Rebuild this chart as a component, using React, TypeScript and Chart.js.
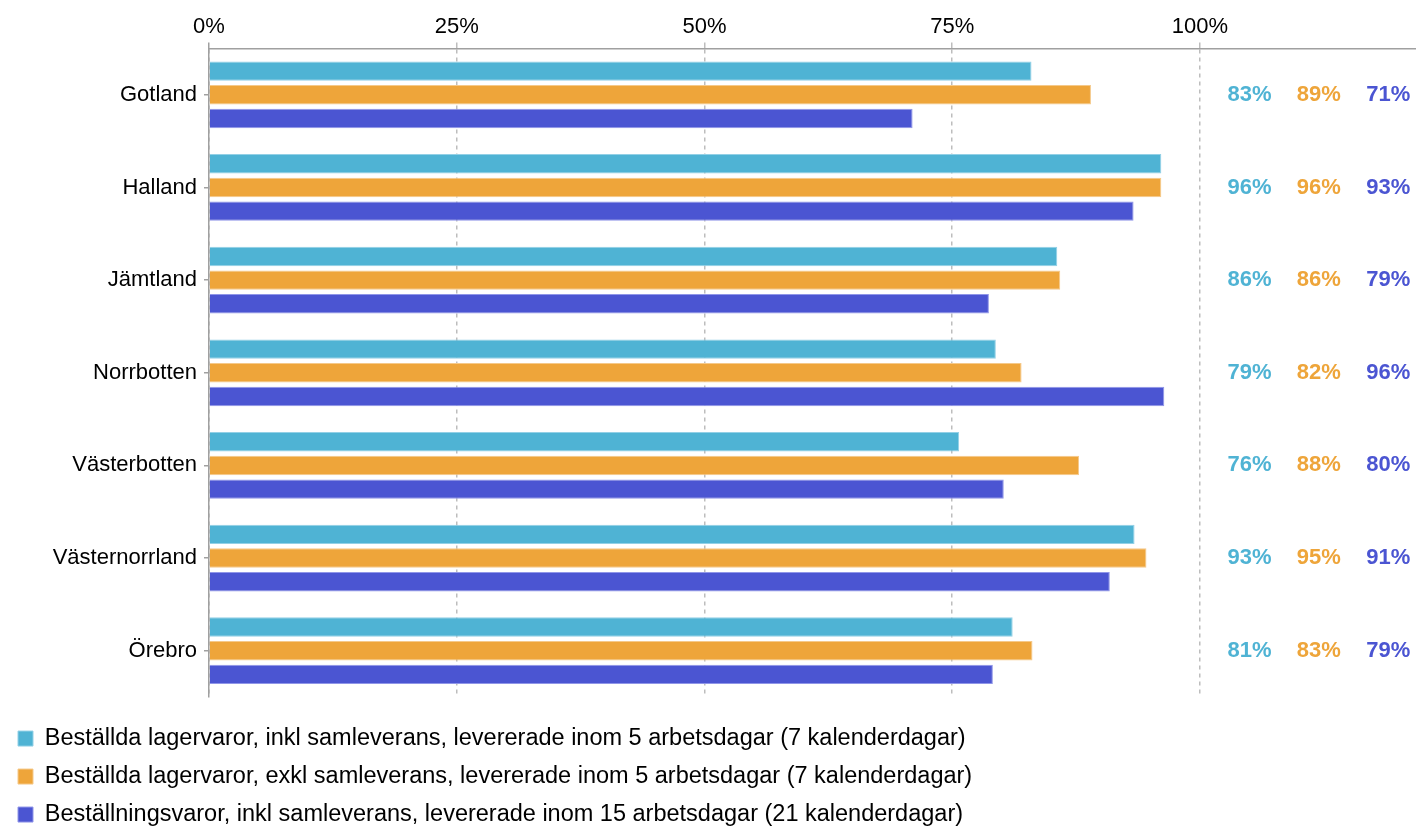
import React, { useEffect, useRef } from "react";
import { Chart, registerables } from "chart.js";

Chart.register(...registerables);

const CATEGORIES = ["Gotland", "Halland", "Jämtland", "Norrbotten", "Västerbotten", "Västernorrland", "Örebro"];
const SERIES_NAMES = [
  "Beställda lagervaror, inkl samleverans, levererade inom 5 arbetsdagar (7 kalenderdagar)",
  "Beställda lagervaror, exkl samleverans, levererade inom 5 arbetsdagar (7 kalenderdagar)",
  "Beställningsvaror, inkl samleverans, levererade inom 15 arbetsdagar (21 kalenderdagar)",
];
const INKL_LAGER = [83.0, 96.1, 85.6, 79.4, 75.7, 93.4, 81.1];
const EXKL_LAGER = [89.0, 96.1, 85.9, 82.0, 87.8, 94.6, 83.1];
const BESTALLNING = [71.0, 93.3, 78.7, 96.4, 80.2, 90.9, 79.1];
const X_TICK_VALUES = [0, 25, 50, 75, 100];

const FONT = "'Liberation Sans', Arial, sans-serif";
const COLORS = ["#4FB3D4", "#EEA53A", "#4B55D2"];
const EDGE = ["#93d0e6", "#f5c98a", "#9096e8"];
const LABEL_COLUMNS = [105, 112, 119];
const AXIS_GREY = "#a0a0a0";

const valueLabels = {
  id: "valueLabels",
  afterDatasetsDraw(chart: any) {
    const { ctx } = chart;
    const xs = chart.scales.x;
    const ys = chart.scales.y;
    ctx.save();
    ctx.font = `bold 22px ${FONT}`;
    ctx.textAlign = "center";
    ctx.textBaseline = "middle";
    chart.data.datasets.forEach((ds: any, i: number) => {
      ctx.fillStyle = COLORS[i];
      const x = xs.getPixelForValue(LABEL_COLUMNS[i]);
      ds.data.forEach((v: number, j: number) => {
        const y = ys.getPixelForValue(j);
        ctx.fillText(Math.round(v) + "%", x, y);
      });
    });
    ctx.restore();
  },
};

export default function App() {
  const ref = useRef<HTMLCanvasElement>(null);
  useEffect(() => {
    if (!ref.current) return;
    Chart.defaults.font.family = FONT;
    const series = [INKL_LAGER, EXKL_LAGER, BESTALLNING];
    const chart = new Chart(ref.current, {
      type: "bar",
      data: {
        labels: CATEGORIES,
        datasets: series.map((d, i) => ({
          label: SERIES_NAMES[i],
          data: d,
          backgroundColor: COLORS[i],
          borderColor: EDGE[i],
          borderWidth: 1,
          categoryPercentage: 0.767,
          barPercentage: 0.82,
        })),
      },
      options: {
        indexAxis: "y",
        animation: false,
        responsive: true,
        maintainAspectRatio: false,
        layout: { padding: { left: 3.5, right: 0, top: 0, bottom: 0 } },
        plugins: {
          tooltip: { enabled: false },
          legend: {
            position: "bottom",
            align: "start",
            title: { display: true, text: " ", font: { size: 1, lineHeight: 1 }, padding: { top: 14.25, bottom: 0 } },
            labels: {
              boxWidth: 15,
              boxHeight: 15,
              padding: 14.5,
              color: "#000",
              font: { size: 23.5, family: FONT },
            },
          },
        },
        scales: {
          x: {
            position: "top",
            min: 0,
            max: 121.8,
            afterFit: (s: any) => {
              s.height = 48.5;
            },
            afterBuildTicks: (s: any) => {
              s.ticks = X_TICK_VALUES.map((v) => ({ value: v }));
            },
            ticks: {
              color: "#000",
              padding: 2,
              font: { size: 22, family: FONT },
              callback: (v: any) => v + "%",
            },
            grid: {
              color: (c: any) => (c.tick && c.tick.value === 0 ? AXIS_GREY : "#bdbdbd"),
              lineWidth: 1.5,
              tickLength: 6,
            },
            border: { display: true, color: AXIS_GREY, width: 1.5, dash: [4, 4] },
          },
          y: {
            afterFit: (s: any) => {
              s.width = 205.5;
            },
            ticks: {
              color: "#000",
              padding: 7,
              font: { size: 22, family: FONT },
            },
            grid: {
              offset: false,
              drawOnChartArea: false,
              drawTicks: true,
              tickLength: 5,
              color: AXIS_GREY,
              lineWidth: 1.5,
            },
            border: { display: true, color: AXIS_GREY, width: 1.5 },
          },
        },
      },
      plugins: [valueLabels],
    });
    return () => chart.destroy();
  }, []);

  return (
    <div style={{ position: "absolute", left: 0, top: 0, width: 1416, height: 827, overflow: "hidden", background: "#fff" }}>
      <div style={{ position: "relative", width: 1416, height: 836.25 }}>
        <canvas ref={ref} />
      </div>
    </div>
  );
}
